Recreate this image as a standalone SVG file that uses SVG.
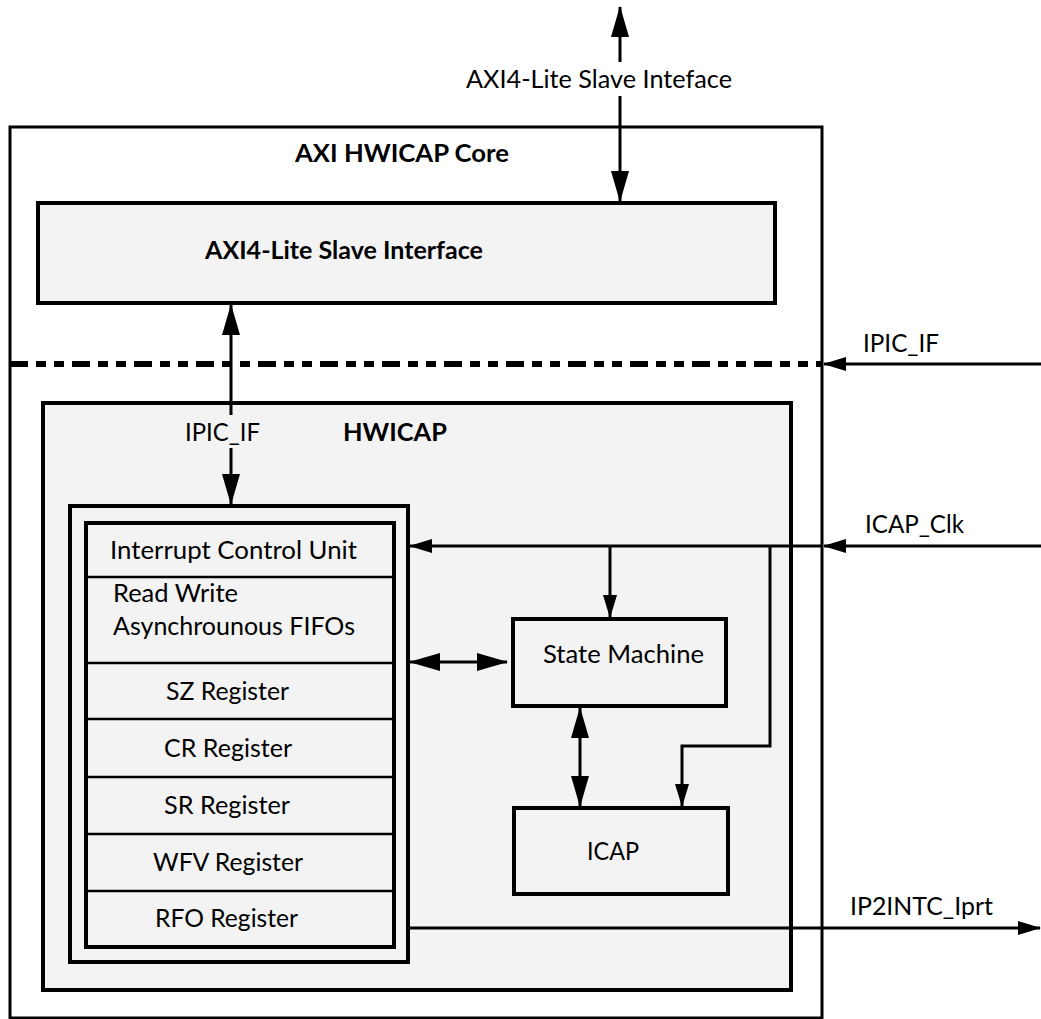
<svg xmlns="http://www.w3.org/2000/svg" width="1041" height="1019" viewBox="0 0 1041 1019">
<defs>
<marker id="ah" markerUnits="userSpaceOnUse" markerWidth="32" markerHeight="20" refX="30" refY="9" orient="auto-start-reverse" viewBox="0 0 32 20">
<path d="M0,0 L31,9 L0,18 z" fill="#000"/>
</marker>
<marker id="as" markerUnits="userSpaceOnUse" markerWidth="24" markerHeight="16" refX="22" refY="7" orient="auto-start-reverse" viewBox="0 0 24 16">
<path d="M0,0 L23,7 L0,14 z" fill="#000"/>
</marker>
<style>
.box{fill:#f3f3f3;stroke:#000;stroke-width:4}
.t{font-family:Lato,"Liberation Sans",sans-serif;font-size:25px;fill:#000}
.b{font-weight:bold}
.c{fill:none;stroke:#000;stroke-width:3}
.row{fill:none;stroke:#000;stroke-width:2.5}
</style>
</defs>
<rect width="1041" height="1019" fill="#fff"/>

<g id="core">
<rect x="10" y="127" width="812" height="891" fill="#fff" stroke="#000" stroke-width="3"/>
<text class="t b" x="295" y="162" textLength="214" lengthAdjust="spacingAndGlyphs">AXI HWICAP Core</text>
<line x1="10" y1="364" x2="822" y2="364" stroke="#000" stroke-width="6" stroke-dasharray="18 8 10 8 10 8"/>
</g>

<g id="axi-slave">
<rect class="box" x="38" y="203" width="737" height="100"/>
<text class="t b" x="205" y="259" textLength="278" lengthAdjust="spacingAndGlyphs">AXI4-Lite Slave Interface</text>
</g>

<g id="hwicap">
<rect class="box" x="43" y="403" width="748" height="587"/>
<text class="t b" x="343" y="441" textLength="104" lengthAdjust="spacingAndGlyphs">HWICAP</text>
</g>

<g id="registers">
<rect x="70" y="506" width="338" height="456" fill="#f3f3f3" stroke="#000" stroke-width="4"/>
<rect x="86" y="523" width="308" height="424" fill="#f3f3f3" stroke="#000" stroke-width="4"/>
<line class="row" x1="86" y1="577" x2="394" y2="577"/>
<line class="row" x1="86" y1="663" x2="394" y2="663"/>
<line class="row" x1="86" y1="719" x2="394" y2="719"/>
<line class="row" x1="86" y1="777" x2="394" y2="777"/>
<line class="row" x1="86" y1="834" x2="394" y2="834"/>
<line class="row" x1="86" y1="891" x2="394" y2="891"/>
<text class="t" x="110" y="559" textLength="247" lengthAdjust="spacingAndGlyphs">Interrupt Control Unit</text>
<text class="t" x="113" y="602" textLength="125" lengthAdjust="spacingAndGlyphs">Read Write</text>
<text class="t" x="113" y="635" textLength="242" lengthAdjust="spacingAndGlyphs">Asynchrounous FIFOs</text>
<text class="t" x="166" y="700" textLength="123" lengthAdjust="spacingAndGlyphs">SZ Register</text>
<text class="t" x="164" y="757" textLength="128" lengthAdjust="spacingAndGlyphs">CR Register</text>
<text class="t" x="164" y="814" textLength="126" lengthAdjust="spacingAndGlyphs">SR Register</text>
<text class="t" x="153" y="871" textLength="150" lengthAdjust="spacingAndGlyphs">WFV Register</text>
<text class="t" x="155" y="927" textLength="143" lengthAdjust="spacingAndGlyphs">RFO Register</text>
</g>

<g id="state-machine">
<rect class="box" x="513" y="619" width="213" height="87"/>
<text class="t" x="543" y="663" textLength="161" lengthAdjust="spacingAndGlyphs">State Machine</text>
</g>

<g id="icap">
<rect class="box" x="514" y="808" width="214" height="86"/>
<text class="t" x="587" y="860" textLength="52" lengthAdjust="spacingAndGlyphs">ICAP</text>
</g>

<g id="connectors">
<line class="c" x1="620" y1="62" x2="620" y2="7" marker-end="url(#ah)"/>
<line class="c" x1="620" y1="96" x2="620" y2="201" marker-end="url(#ah)"/>
<text class="t" x="466" y="88" textLength="266" lengthAdjust="spacingAndGlyphs">AXI4-Lite Slave Inteface</text>

<line class="c" x1="231" y1="415" x2="231" y2="305" marker-end="url(#ah)"/>
<line class="c" x1="231" y1="448" x2="231" y2="504" marker-end="url(#ah)"/>
<text class="t" x="185" y="441" textLength="75" lengthAdjust="spacingAndGlyphs">IPIC_IF</text>

<line class="c" x1="1041" y1="364" x2="824" y2="364" marker-end="url(#as)"/>
<text class="t" x="863" y="352" textLength="76" lengthAdjust="spacingAndGlyphs">IPIC_IF</text>

<line class="c" x1="1041" y1="546" x2="824" y2="546" marker-end="url(#as)"/>
<text class="t" x="865" y="533" textLength="99" lengthAdjust="spacingAndGlyphs">ICAP_Clk</text>
<line class="c" x1="822" y1="546" x2="410" y2="546" marker-end="url(#as)"/>
<line class="c" x1="610" y1="546" x2="610" y2="617" marker-end="url(#as)"/>
<polyline class="c" points="770,546 770,746 682,746 682,806" marker-end="url(#as)"/>

<line class="c" x1="410" y1="662" x2="507" y2="662" marker-start="url(#ah)" marker-end="url(#ah)"/>
<line class="c" x1="580" y1="708" x2="580" y2="806" marker-start="url(#ah)" marker-end="url(#ah)"/>

<line class="c" x1="408" y1="928" x2="1040" y2="928" marker-end="url(#as)"/>
<text class="t" x="850" y="915" textLength="143" lengthAdjust="spacingAndGlyphs">IP2INTC_Iprt</text>
</g>
</svg>
